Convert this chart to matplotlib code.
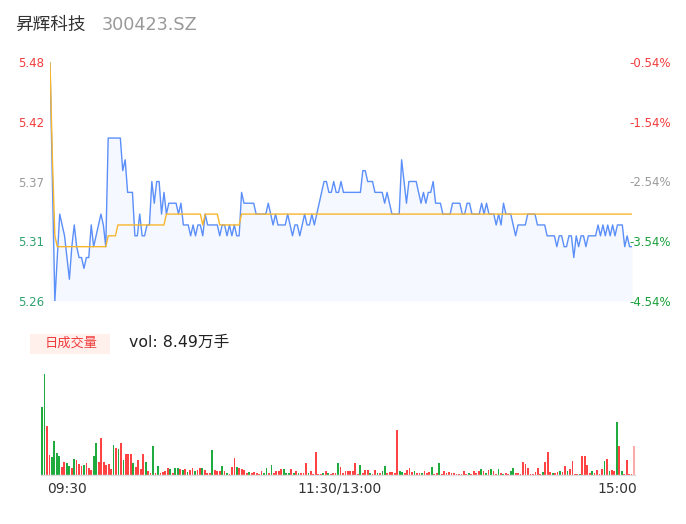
import numpy as np
import matplotlib
matplotlib.use("Agg")
import matplotlib.pyplot as plt
from matplotlib.patches import Rectangle

# ---- data -------------------------------------------------------------
stock_name = "昇辉科技"
stock_code = "300423.SZ"
prev_close = 5.51
total_vol_label = "vol: 8.49万手"

time_labels = ["09:30", "11:30/13:00", "15:00"]
price_tick_labels = ["5.26", "5.31", "5.37", "5.42", "5.48"]
pct_tick_labels = ["-4.54%", "-3.54%", "-2.54%", "-1.54%", "-0.54%"]

# minute prices, 09:30 .. 15:00 (241 points)
price = [
    5.48, 5.37, 5.26, 5.30, 5.34, 5.33, 5.32, 5.30, 5.28, 5.31,
    5.33, 5.31, 5.30, 5.30, 5.29, 5.30, 5.30, 5.33, 5.31, 5.32,
    5.33, 5.34, 5.33, 5.31, 5.41, 5.41, 5.41, 5.41, 5.41, 5.41,
    5.38, 5.39, 5.36, 5.36, 5.36, 5.32, 5.32, 5.34, 5.32, 5.32,
    5.33, 5.33, 5.37, 5.35, 5.37, 5.37, 5.34, 5.36, 5.34, 5.35,
    5.35, 5.35, 5.35, 5.34, 5.35, 5.33, 5.33, 5.33, 5.32, 5.33,
    5.32, 5.33, 5.33, 5.32, 5.34, 5.33, 5.33, 5.33, 5.33, 5.33,
    5.32, 5.33, 5.33, 5.32, 5.33, 5.32, 5.33, 5.32, 5.32, 5.36,
    5.35, 5.35, 5.35, 5.35, 5.35, 5.34, 5.34, 5.34, 5.34, 5.34,
    5.35, 5.34, 5.33, 5.34, 5.33, 5.33, 5.33, 5.33, 5.34, 5.33,
    5.32, 5.33, 5.33, 5.32, 5.33, 5.34, 5.33, 5.33, 5.34, 5.33,
    5.34, 5.35, 5.36, 5.37, 5.37, 5.36, 5.36, 5.37, 5.36, 5.36,
    5.37, 5.36, 5.36, 5.36, 5.36, 5.36, 5.36, 5.36, 5.36, 5.38,
    5.38, 5.37, 5.37, 5.37, 5.36, 5.36, 5.36, 5.36, 5.35, 5.36,
    5.35, 5.34, 5.34, 5.34, 5.34, 5.39, 5.37, 5.35, 5.37, 5.37,
    5.37, 5.37, 5.36, 5.35, 5.36, 5.35, 5.36, 5.36, 5.37, 5.35,
    5.35, 5.35, 5.34, 5.34, 5.34, 5.34, 5.35, 5.35, 5.35, 5.35,
    5.34, 5.34, 5.35, 5.35, 5.34, 5.34, 5.34, 5.34, 5.35, 5.34,
    5.35, 5.34, 5.34, 5.34, 5.33, 5.34, 5.33, 5.35, 5.34, 5.34,
    5.34, 5.33, 5.32, 5.33, 5.33, 5.33, 5.33, 5.34, 5.34, 5.34,
    5.34, 5.33, 5.33, 5.33, 5.33, 5.32, 5.32, 5.32, 5.32, 5.31,
    5.32, 5.32, 5.31, 5.31, 5.32, 5.32, 5.30, 5.32, 5.31, 5.32,
    5.32, 5.31, 5.32, 5.32, 5.32, 5.32, 5.33, 5.32, 5.33, 5.32,
    5.33, 5.32, 5.33, 5.32, 5.33, 5.33, 5.33, 5.31, 5.32, 5.31,
    5.31,
]

# running average price
avg_price = [
    5.48, 5.39, 5.32, 5.31, 5.31, 5.31, 5.31, 5.31, 5.31, 5.31,
    5.31, 5.31, 5.31, 5.31, 5.31, 5.31, 5.31, 5.31, 5.31, 5.31,
    5.31, 5.31, 5.31, 5.31, 5.32, 5.32, 5.32, 5.32, 5.33, 5.33,
    5.33, 5.33, 5.33, 5.33, 5.33, 5.33, 5.33, 5.33, 5.33, 5.33,
    5.33, 5.33, 5.33, 5.33, 5.33, 5.33, 5.33, 5.33, 5.34, 5.34,
    5.34, 5.34, 5.34, 5.34, 5.34, 5.34, 5.34, 5.34, 5.34, 5.34,
    5.34, 5.34, 5.34, 5.33, 5.34, 5.34, 5.34, 5.34, 5.34, 5.34,
    5.33, 5.33, 5.33, 5.33, 5.33, 5.33, 5.33, 5.33, 5.33, 5.34,
    5.34, 5.34, 5.34, 5.34, 5.34, 5.34, 5.34, 5.34, 5.34, 5.34,
    5.34, 5.34, 5.34, 5.34, 5.34, 5.34, 5.34, 5.34, 5.34, 5.34,
    5.34, 5.34, 5.34, 5.34, 5.34, 5.34, 5.34, 5.34, 5.34, 5.34,
    5.34, 5.34, 5.34, 5.34, 5.34, 5.34, 5.34, 5.34, 5.34, 5.34,
    5.34, 5.34, 5.34, 5.34, 5.34, 5.34, 5.34, 5.34, 5.34, 5.34,
    5.34, 5.34, 5.34, 5.34, 5.34, 5.34, 5.34, 5.34, 5.34, 5.34,
    5.34, 5.34, 5.34, 5.34, 5.34, 5.34, 5.34, 5.34, 5.34, 5.34,
    5.34, 5.34, 5.34, 5.34, 5.34, 5.34, 5.34, 5.34, 5.34, 5.34,
    5.34, 5.34, 5.34, 5.34, 5.34, 5.34, 5.34, 5.34, 5.34, 5.34,
    5.34, 5.34, 5.34, 5.34, 5.34, 5.34, 5.34, 5.34, 5.34, 5.34,
    5.34, 5.34, 5.34, 5.34, 5.34, 5.34, 5.34, 5.34, 5.34, 5.34,
    5.34, 5.34, 5.34, 5.34, 5.34, 5.34, 5.34, 5.34, 5.34, 5.34,
    5.34, 5.34, 5.34, 5.34, 5.34, 5.34, 5.34, 5.34, 5.34, 5.34,
    5.34, 5.34, 5.34, 5.34, 5.34, 5.34, 5.34, 5.34, 5.34, 5.34,
    5.34, 5.34, 5.34, 5.34, 5.34, 5.34, 5.34, 5.34, 5.34, 5.34,
    5.34, 5.34, 5.34, 5.34, 5.34, 5.34, 5.34, 5.34, 5.34, 5.34,
    5.34,
]

# minute volume in lots (手)
volume = [
    3110, 4650, 2250, 920, 810, 1550, 1000, 840, 340, 570,
    510, 380, 310, 740, 690, 490, 410, 450, 540, 310,
    200, 870, 1460, 570, 1690, 580, 450, 490, 260, 1380,
    1230, 1180, 1460, 690, 950, 950, 950, 510, 350, 690,
    260, 950, 580, 180, 80, 1330, 50, 410, 80, 120,
    150, 310, 260, 50, 290, 320, 260, 230, 260, 120,
    230, 290, 150, 200, 280, 280, 230, 50, 50, 1150,
    230, 150, 180, 410, 150, 80, 30, 350, 770, 350,
    290, 240, 220, 50, 120, 60, 120, 50, 15, 170,
    90, 320, 80, 460, 50, 170, 170, 260, 240, 80,
    80, 240, 50, 150, 50, 50, 50, 520, 50, 150,
    15, 1060, 30, 15, 80, 170, 90, 15, 50, 50,
    510, 340, 50, 180, 140, 180, 180, 520, 15, 450,
    60, 220, 220, 50, 15, 200, 50, 50, 150, 400,
    50, 120, 120, 50, 2060, 140, 120, 60, 230, 310,
    120, 170, 90, 50, 60, 180, 50, 120, 370, 15,
    50, 510, 5, 150, 80, 110, 80, 90, 5, 5,
    5, 170, 30, 80, 30, 140, 50, 170, 240, 170,
    50, 220, 240, 180, 15, 240, 80, 30, 80, 30,
    170, 310, 50, 90, 15, 570, 490, 290, 30, 15,
    120, 290, 15, 110, 570, 1030, 110, 50, 50, 120,
    170, 120, 410, 140, 240, 640, 15, 15, 30, 860,
    860, 450, 60, 180, 60, 200, 30, 260, 630, 700,
    150, 220, 180, 2450, 1320, 150, 30, 680, 30, 15,
    1320,
]

# bar direction: r = up minute, g = down minute, p = latest (pending)
vol_dir = (
    "ggrrggggrr" "ggrgrrrgrr" "rggrrrrrrg" "rgrgrrrgrr" "rrgrrgrgrr"
    "rrgrggrgrg" "rrgrrgrrrg" "rrrgrgrrrg" "rrrrgrrrrr" "ggrgrrrrgg"
    "grgrgrrrgr" "rrrrgrgrrr" "grrrrrrrrg" "rrrgrrgrgg" "rrrrrggrrr"
    "rgrrgrrrgr" "rgrrrrrrrr" "rrrgrrrrgr" "grgrrgrgrr" "ggrrrrrrrr"
    "rrrgrrrgrr" "grrgrrrrgr" "rrrgrrrrgr" "grrgrgrrrr" "p"
)

# ---- figure -----------------------------------------------------------
plt.rcParams['font.family'] = ['DejaVu Sans', 'Noto Sans CJK SC']

W, H = 686, 524
fig = plt.figure(figsize=(W / 100, H / 100), dpi=100)
fig.patch.set_facecolor('white')


def fx(px):
    return px / W


def fy(py):
    return 1 - py / H


RED = '#f23b3b'
GREEN_L = '#2fa36f'
GREEN_R = '#1a9f3a'
GRAY = '#9a9a9a'

# header
fig.text(fx(15), fy(25), stock_name, fontsize=12.7, color='#333333',
         ha='left', va='center')
fig.text(fx(102), fy(25), stock_code, fontsize=12.7, color='#999999',
         ha='left', va='center')

# price panel
ymin, ymax = 5.26, 5.48
ax = fig.add_axes([fx(50), fy(301), fx(632) - fx(50), fy(62) - fy(301)])
x = np.arange(len(price))
ax.fill_between(x, price, ymin, color='#f5f8ff', lw=0)
ax.plot(x, price, color='#5b8ff9', lw=1.0, solid_joinstyle='round')
ax.plot(x, avg_price, color='#f8b62d', lw=1.0)
ax.set_xlim(0, len(price) - 1)
ax.set_ylim(ymin, ymax)
ax.set_xticks([])
for s in ax.spines.values():
    s.set_visible(False)

ticks = np.linspace(ymin, ymax, 5)
left_colors = [GREEN_L, GREEN_L, GRAY, RED, RED]
right_colors = [GREEN_R, GREEN_R, GRAY, RED, RED]
ax.set_yticks(ticks)
ax.set_yticklabels(price_tick_labels)
ax.tick_params(axis='y', length=0, pad=4, labelsize=8.5)
for lab, c in zip(ax.get_yticklabels(), left_colors):
    lab.set_color(c)

axr = ax.twinx()
axr.set_ylim(ymin, ymax)
axr.set_yticks(ticks)
axr.set_yticklabels(pct_tick_labels)
axr.tick_params(axis='y', length=0, pad=-2, labelsize=8.5)
for lab, c in zip(axr.get_yticklabels(), right_colors):
    lab.set_color(c)
for s in axr.spines.values():
    s.set_visible(False)

# volume legend
fig.add_artist(Rectangle((fx(30), fy(354)), fx(110) - fx(30), fy(334) - fy(354),
                         transform=fig.transFigure, fc='#fff0ec', ec='none'))
fig.text(fx(71), fy(343), "日成交量", fontsize=9.5, color='#f03c3c',
         ha='center', va='center')
fig.text(fx(129), fy(342), total_vol_label, fontsize=11.3, color='#222222',
         ha='left', va='center')

# volume panel
px_per_lot = 100.5 / 4650
vtop = 5000
vh = vtop * px_per_lot
axv = fig.add_axes([fx(40.8), fy(474.5), fx(635.3) - fx(40.8), vh / H])
color_map = {'r': '#ff4343', 'g': '#1fab3d', 'p': '#ffaaaa'}
bar_colors = [color_map[c] for c in vol_dir]
axv.bar(np.arange(len(volume)), volume, width=0.72, color=bar_colors, lw=0)
axv.set_xlim(-0.5, len(volume) - 0.5)
axv.set_ylim(0, vtop)
axv.set_xticks([])
axv.set_yticks([])
for k, s in axv.spines.items():
    s.set_visible(k == 'bottom')
axv.spines['bottom'].set_color('#dddddd')
axv.spines['bottom'].set_linewidth(1.0)

# time axis labels
fig.text(fx(47), fy(489), time_labels[0], fontsize=10, color='#333333',
         ha='left', va='center')
fig.text(fx(340), fy(489), time_labels[1], fontsize=10, color='#333333',
         ha='center', va='center')
fig.text(fx(637), fy(489), time_labels[2], fontsize=10, color='#333333',
         ha='right', va='center')

fig.savefig('out.png', dpi=100, facecolor='white')
